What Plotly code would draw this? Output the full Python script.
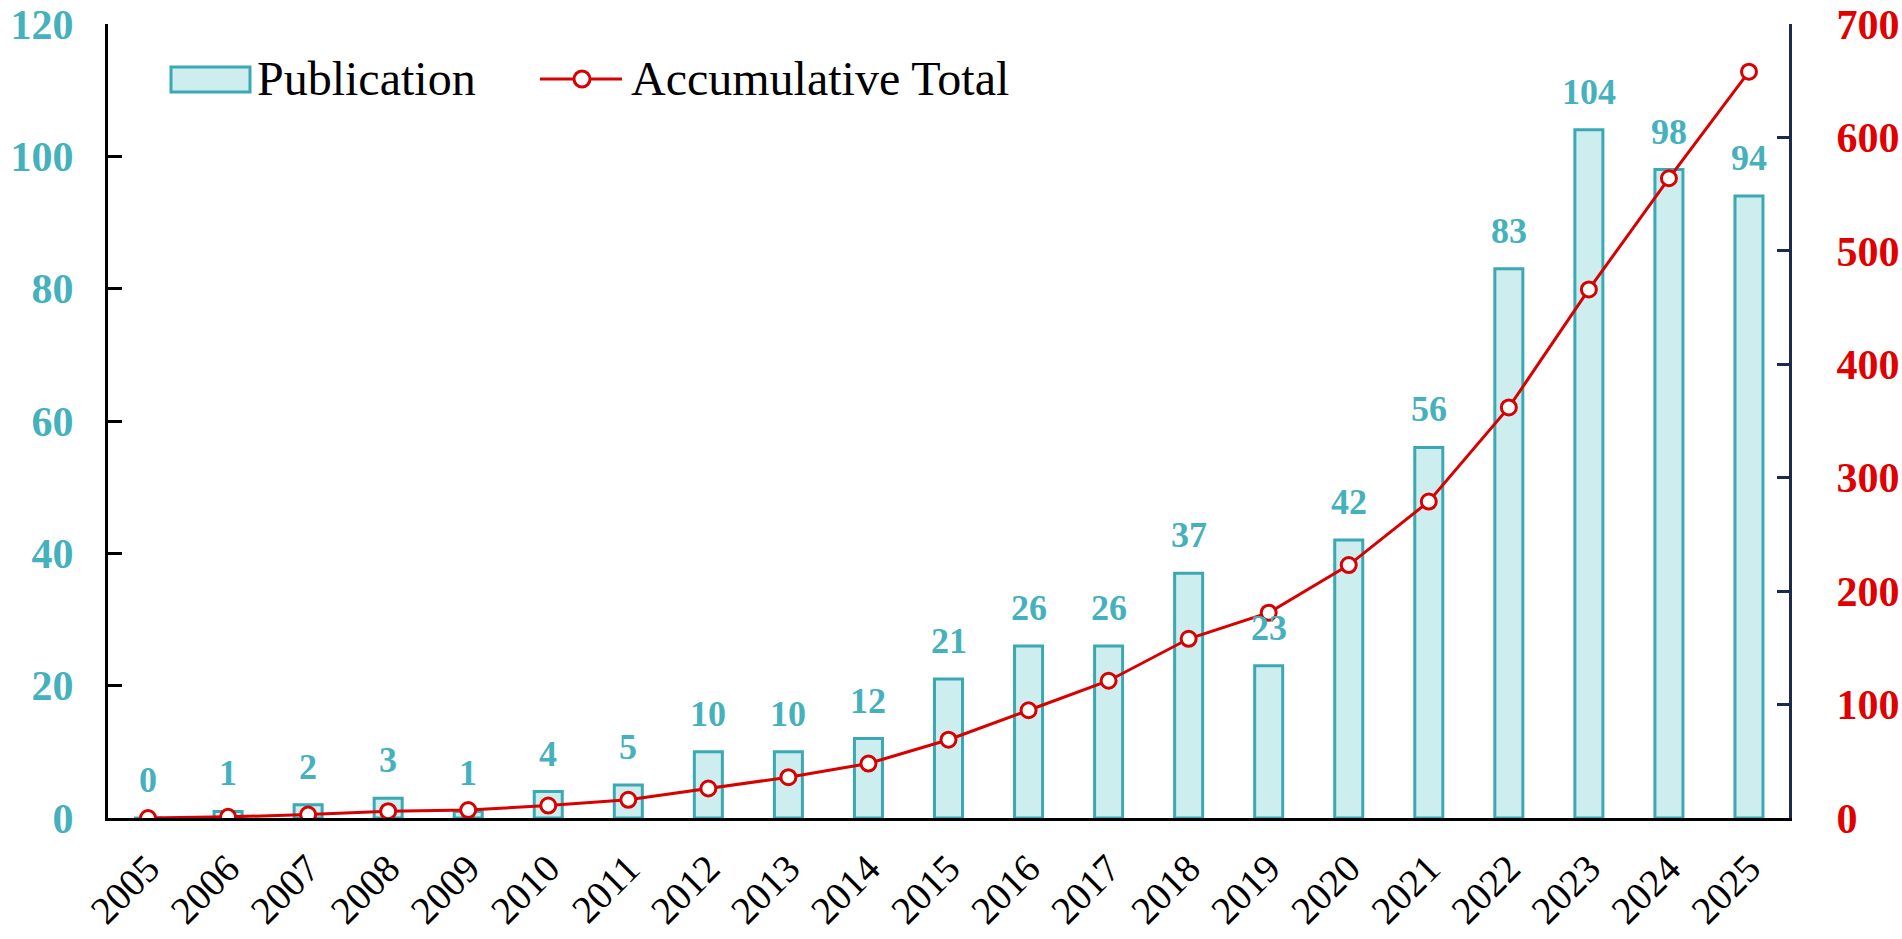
import plotly.graph_objects as go

years = [str(y) for y in range(2005, 2026)]
publications = [0, 1, 2, 3, 1, 4, 5, 10, 10, 12, 21, 26, 26, 37, 23, 42, 56, 83, 104, 98, 94]
cumulative = [0, 1, 3, 6, 7, 11, 16, 26, 36, 48, 69, 95, 121, 158, 181, 223, 279, 362, 466, 564, 658]
left_ticks = [0, 20, 40, 60, 80, 100, 120]
right_ticks = [0, 100, 200, 300, 400, 500, 600, 700]

W, H = 1902, 939
ML, MR, MT, MB = 108, 113, 24, 121
PW, PH = W - ML - MR, H - MT - MB

TEAL = "#45B1BC"
BAR_FILL = "#CDEDEF"
BAR_LINE = "#3BA9B4"
RED = "#E00000"
LINE_RED = "#D80000"
NAVY = "#1B2A4E"
FONT = "Liberation Serif"


def px(x):
    return (x - ML) / PW


def py(y):
    return (H - MB - y) / PH


fig = go.Figure()
fig.add_trace(go.Bar(
    x=years, y=publications, name="Publication", width=0.35,
    marker=dict(color=BAR_FILL, line=dict(color=BAR_LINE, width=3)),
    yaxis="y", showlegend=False,
))
fig.add_trace(go.Scatter(
    x=years, y=cumulative, name="Accumulative Total", mode="lines+markers",
    line=dict(color=LINE_RED, width=3),
    marker=dict(symbol="circle", size=15, color="white", line=dict(color=LINE_RED, width=3)),
    yaxis="y2", showlegend=False,
))

annotations = []
for i, v in enumerate(publications):
    annotations.append(dict(
        x=i, y=v, xref="x", yref="y", text=str(v), showarrow=False,
        yanchor="bottom", yshift=16,
        font=dict(family=FONT, size=36, color=TEAL, weight=700),
    ))

# manual legend
shapes = [
    dict(type="rect", xref="paper", yref="paper",
         x0=px(171), x1=px(250), y0=py(92), y1=py(67),
         fillcolor=BAR_FILL, line=dict(color=BAR_LINE, width=3)),
    dict(type="line", xref="paper", yref="paper",
         x0=px(540), x1=px(622), y0=py(79), y1=py(79),
         line=dict(color=LINE_RED, width=3)),
    dict(type="circle", xref="paper", yref="paper",
         x0=px(574), x1=px(590), y0=py(87), y1=py(71),
         fillcolor="white", line=dict(color=LINE_RED, width=3)),
]
annotations.append(dict(x=px(255), y=py(79), xref="paper", yref="paper", text="Publication",
                        showarrow=False, xanchor="left", yanchor="middle",
                        font=dict(family=FONT, size=48, color="black")))
annotations.append(dict(x=px(629), y=py(79), xref="paper", yref="paper", text="Accumulative Total",
                        showarrow=False, xanchor="left", yanchor="middle",
                        font=dict(family=FONT, size=48, color="black")))

fig.update_layout(
    width=W, height=H,
    margin=dict(l=ML, r=MR, t=MT, b=MB, pad=0, autoexpand=False),
    paper_bgcolor="white", plot_bgcolor="white",
    xaxis=dict(
        type="category", range=[-0.5, 20.5], showline=True, linecolor="black", linewidth=3,
        ticks="", tickangle=-45, showgrid=False, zeroline=False, automargin=False,
        tickfont=dict(family=FONT, size=39, color="black"), ticklabelstandoff=9,
        ticklabeloverflow="allow",
    ),
    yaxis=dict(
        range=[0, 120], tickvals=left_ticks, showline=True, linecolor="black", linewidth=3,
        ticks="inside", ticklen=14, tickwidth=3, tickcolor="black", showgrid=False, zeroline=False,
        automargin=False, ticklabeloverflow="allow",
        tickfont=dict(family=FONT, size=42, color=TEAL, weight=700), ticklabelstandoff=23,
    ),
    yaxis2=dict(
        range=[0, 700], tickvals=right_ticks, overlaying="y", side="right",
        showline=True, linecolor=NAVY, linewidth=3, automargin=False, ticklabeloverflow="allow",
        ticks="inside", ticklen=12, tickwidth=3, tickcolor=NAVY, showgrid=False, zeroline=False,
        tickfont=dict(family=FONT, size=42, color=RED, weight=700), ticklabelstandoff=36,
    ),
    annotations=annotations,
    shapes=shapes,
)

fig.write_html(
    "out.html",
    config={"displayModeBar": False},
    post_script="document.body.style.margin='0';document.documentElement.style.overflow='hidden';",
)
